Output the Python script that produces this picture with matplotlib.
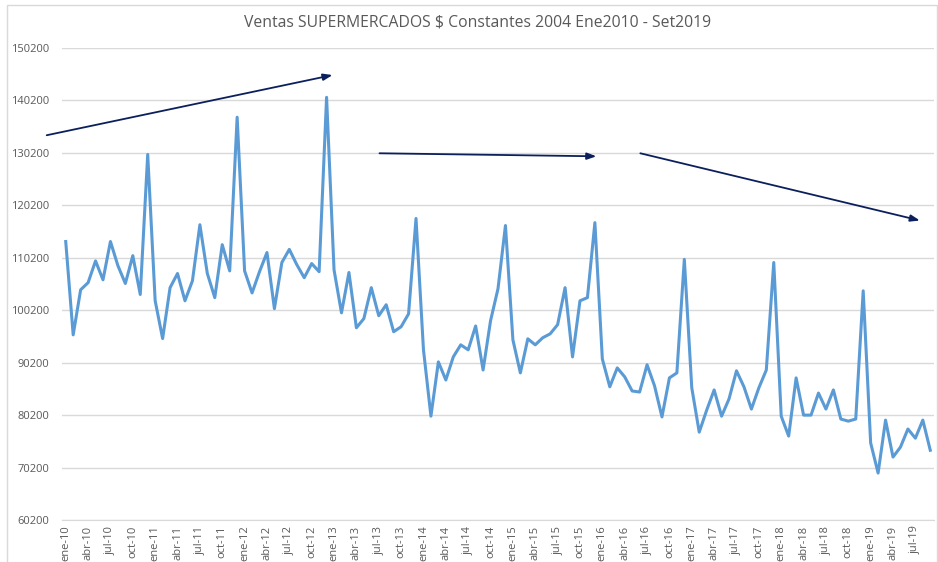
import matplotlib
matplotlib.use("Agg")
import matplotlib.pyplot as plt
from matplotlib.patches import Rectangle

months_es = ["ene", "feb", "mar", "abr", "may", "jun", "jul", "ago", "sep", "oct", "nov", "dic"]
years = list(range(2010, 2020))
categories = [f"{m}-{str(y)[2:]}" for y in years for m in months_es][:117]

ventas = [
    113300, 95500, 104100, 105450, 109600, 106000, 113300, 108700, 105300, 110600, 103200, 129900,
    102000, 94800, 104500, 107200, 102000, 105800, 116500, 107200, 102600, 112700, 107700, 137000,
    107700, 103500, 107550, 111200, 100500, 109300, 111800, 108900, 106400, 109100, 107550, 140800,
    107900, 99700, 107400, 96850, 98600, 104500, 99150, 101250, 96100, 97050, 99500, 117700,
    92650, 80000, 90350, 86900, 91300, 93600, 92650, 97200, 88800, 98200, 104300, 116350,
    94550, 88250, 94750, 93600, 94950, 95700, 97450, 104500, 91300, 102000, 102600, 116900,
    90900, 85600, 89200, 87500, 84800, 84600, 89800, 85800, 79850, 87300, 88250, 109900,
    85400, 76950, 81150, 85000, 80000, 83300, 88650, 85600, 81350, 85400, 88800, 109300,
    80000, 76200, 87300, 80200, 80200, 84400, 81350, 85000, 79450, 79050, 79450, 103900,
    74900, 69150, 79250, 72200, 74100, 77550, 75800, 79250, 73500,
]

yticks = list(range(60200, 150201, 10000))
title = "Ventas SUPERMERCADOS $ Constantes 2004 Ene2010 - Set2019"

# trend arrows (start idx, start value, end idx, end value)
arrows = [
    (-2.55, 133566, 35.8, 145040),
    (42.1, 130125, 71.2, 129550),
    (77.1, 130125, 114.6, 117310),
]

W, H = 938, 562
fig = plt.figure(figsize=(W / 100, H / 100), dpi=100)
fig.patch.set_facecolor("white")
fig.patches.append(Rectangle((7 / W, -0.01), (937 - 7) / W, 1 - 5 / H + 0.01,
                             transform=fig.transFigure, fill=False,
                             edgecolor="#d9d9d9", linewidth=1.0))

ax = fig.add_axes([62 / W, 1 - 520 / H, (934 - 62) / W, (520 - 48) / H])
x = list(range(len(ventas)))
ax.plot(x, ventas, color="#5B9BD5", linewidth=2.2, solid_joinstyle="round", zorder=3)

ax.set_ylim(60200, 150200)
ax.set_yticks(yticks)
ax.set_yticklabels([str(v) for v in yticks])
ax.set_xlim(-0.5, len(ventas) - 0.5)
tick_idx = list(range(0, len(ventas), 3))
ax.set_xticks(tick_idx)
ax.set_xticklabels([categories[i] for i in tick_idx], rotation=90)

ax.grid(axis="y", color="#d9d9d9", linewidth=1.0)
ax.set_axisbelow(True)
for s in ["top", "right", "left"]:
    ax.spines[s].set_visible(False)
ax.spines["bottom"].set_color("#d9d9d9")
ax.tick_params(axis="both", length=0, colors="#595959", labelsize=8)
ax.tick_params(axis="y", pad=9)
ax.tick_params(axis="x", pad=4)
for lab in ax.get_xticklabels() + ax.get_yticklabels():
    lab.set_fontfamily("Open Sans")

for (x0, y0, x1, y1) in arrows:
    ax.annotate("", xy=(x1, y1), xytext=(x0, y0), xycoords="data",
                annotation_clip=False,
                arrowprops=dict(arrowstyle="-|>,head_length=0.55,head_width=0.2",
                                color="#0b1f5c", linewidth=1.3,
                                shrinkA=0, shrinkB=0))

fig.text(478 / W, 1 - 22 / H, title, ha="center", va="center",
         fontsize=11.3, color="#595959", fontfamily="Open Sans")

fig.savefig("out.png", dpi=100)
